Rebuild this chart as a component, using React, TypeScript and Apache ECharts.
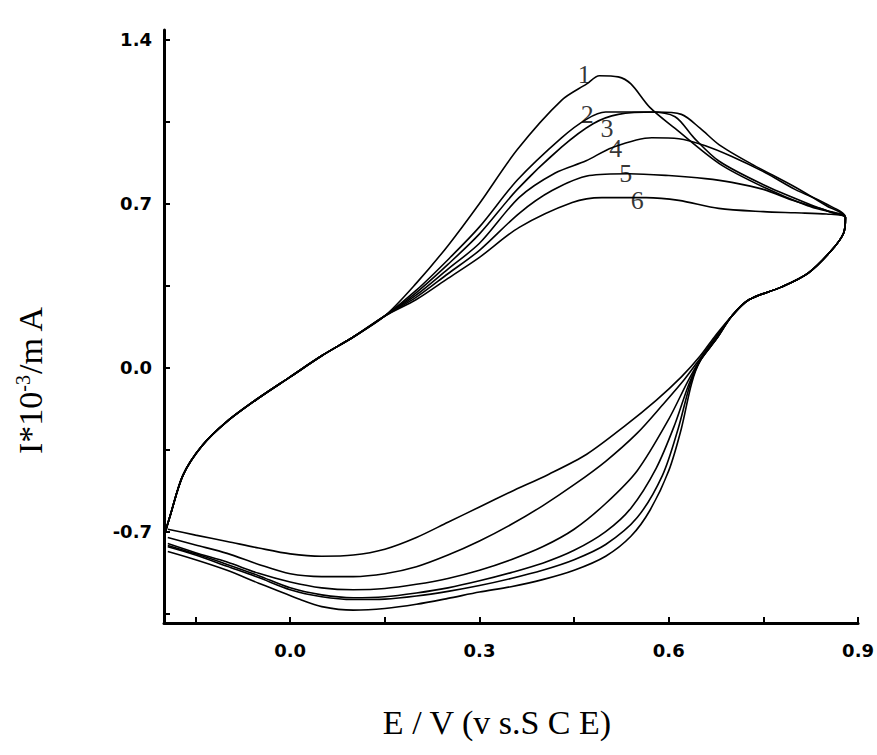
import React, { useEffect, useRef } from "react";
import * as echarts from "echarts";

const xTickValues = [-0.15, 0, 0.15, 0.3, 0.45, 0.6, 0.75, 0.9];
const xLabelValues = [0, 0.3, 0.6, 0.9];
const yTickValues = [-1.05, -0.7, -0.35, 0, 0.35, 0.7, 1.05, 1.4];
const yLabelValues = [-0.7, 0, 0.7, 1.4];

const startBranch: [number, number][] = [
  [-0.2, -0.72], [-0.19, -0.63], [-0.17, -0.46], [-0.14, -0.335], [-0.1, -0.23],
  [-0.05, -0.13], [0, -0.04], [0.05, 0.05], [0.1, 0.13], [0.15, 0.22],
];
const returnBranch: [number, number][] = [
  [0.88, 0.64], [0.877, 0.573], [0.858, 0.5], [0.821, 0.403], [0.779, 0.344], [0.727, 0.289], [0.7, 0.22],
];

const curve1Forward: [number, number][] = [
  [0.2, 0.36], [0.25, 0.52], [0.3, 0.7], [0.36, 0.93], [0.43, 1.14], [0.47, 1.21], [0.49, 1.245],
  [0.52, 1.24], [0.54, 1.21], [0.57, 1.11], [0.61, 1.02], [0.68, 0.87], [0.75, 0.77], [0.82, 0.69], [0.86, 0.66],
];
const curve2Forward: [number, number][] = [
  [0.2, 0.33], [0.25, 0.46], [0.3, 0.6], [0.36, 0.8], [0.43, 0.98], [0.47, 1.06], [0.5, 1.09],
  [0.57, 1.09], [0.61, 1.07], [0.64, 0.98], [0.68, 0.88], [0.75, 0.78], [0.82, 0.7], [0.86, 0.66],
];
const curve3Forward: [number, number][] = [
  [0.2, 0.32], [0.25, 0.44], [0.3, 0.57], [0.36, 0.76], [0.43, 0.94], [0.48, 1.04], [0.52, 1.08],
  [0.58, 1.09], [0.62, 1.08], [0.65, 1.02], [0.68, 0.95], [0.73, 0.87], [0.8, 0.77], [0.85, 0.69],
];
const curve4Forward: [number, number][] = [
  [0.2, 0.31], [0.25, 0.42], [0.3, 0.53], [0.363, 0.726], [0.42, 0.83], [0.469, 0.882], [0.51, 0.938],
  [0.573, 0.98], [0.616, 0.976], [0.658, 0.946], [0.7, 0.9], [0.754, 0.83], [0.8, 0.76], [0.848, 0.7],
];
const curve5Forward: [number, number][] = [
  [0.2, 0.3], [0.25, 0.4], [0.3, 0.5], [0.363, 0.658], [0.415, 0.755], [0.474, 0.819], [0.537, 0.827],
  [0.6, 0.819], [0.658, 0.806], [0.7, 0.79], [0.75, 0.76], [0.8, 0.71], [0.85, 0.67],
];
const curve6Forward: [number, number][] = [
  [0.2, 0.29], [0.25, 0.38], [0.3, 0.47], [0.363, 0.598], [0.447, 0.704], [0.494, 0.725], [0.564, 0.725],
  [0.616, 0.713], [0.679, 0.679], [0.75, 0.665], [0.8, 0.66], [0.85, 0.655],
];

const curve1Reverse: [number, number][] = [
  [0.675, 0.12], [0.65, 0.03], [0.636, -0.07], [0.62, -0.26], [0.6, -0.44], [0.57, -0.61], [0.54, -0.72],
  [0.5, -0.805], [0.45, -0.865], [0.4, -0.905], [0.35, -0.935], [0.3, -0.958], [0.25, -0.985], [0.2, -1.01],
  [0.15, -1.028], [0.1, -1.035], [0.05, -1.02], [0.016, -0.99], [-0.05, -0.92], [-0.1, -0.865], [-0.15, -0.82],
  [-0.194, -0.785],
];
const curve2Reverse: [number, number][] = [
  [0.675, 0.12], [0.65, 0.03], [0.634, -0.07], [0.615, -0.26], [0.59, -0.46], [0.55, -0.64], [0.5, -0.755],
  [0.45, -0.82], [0.4, -0.865], [0.35, -0.9], [0.3, -0.93], [0.25, -0.955], [0.2, -0.975], [0.15, -0.988],
  [0.1, -0.99], [0.05, -0.978], [0, -0.948], [-0.05, -0.896], [-0.1, -0.848], [-0.15, -0.8], [-0.194, -0.765],
];
const curve3Reverse: [number, number][] = [
  [0.675, 0.12], [0.65, 0.03], [0.632, -0.07], [0.61, -0.24], [0.58, -0.43], [0.54, -0.6], [0.5, -0.7],
  [0.45, -0.78], [0.4, -0.835], [0.35, -0.875], [0.3, -0.91], [0.25, -0.94], [0.2, -0.962], [0.15, -0.978],
  [0.1, -0.982], [0.05, -0.97], [0, -0.94], [-0.05, -0.888], [-0.1, -0.84], [-0.15, -0.795], [-0.194, -0.759],
];
const curve4Reverse: [number, number][] = [
  [0.675, 0.13], [0.65, 0.035], [0.63, -0.06], [0.6, -0.22], [0.55, -0.44], [0.5, -0.58], [0.45, -0.69],
  [0.4, -0.765], [0.35, -0.82], [0.3, -0.865], [0.25, -0.9], [0.2, -0.925], [0.15, -0.943], [0.1, -0.948],
  [0.05, -0.94], [0, -0.915], [-0.05, -0.878], [-0.1, -0.83], [-0.15, -0.79], [-0.194, -0.751],
];
const curve5Reverse: [number, number][] = [
  [0.675, 0.13], [0.65, 0.04], [0.625, -0.05], [0.59, -0.16], [0.55, -0.28], [0.5, -0.4], [0.45, -0.5],
  [0.4, -0.59], [0.35, -0.67], [0.3, -0.74], [0.25, -0.8], [0.2, -0.85], [0.15, -0.88], [0.1, -0.892],
  [0.05, -0.892], [0, -0.88], [-0.05, -0.84], [-0.1, -0.793], [-0.15, -0.757], [-0.194, -0.725],
];
const curve6Reverse: [number, number][] = [
  [0.675, 0.14], [0.65, 0.05], [0.62, -0.04], [0.58, -0.14], [0.53, -0.25], [0.47, -0.37], [0.41, -0.455],
  [0.35, -0.53], [0.3, -0.595], [0.25, -0.66], [0.2, -0.725], [0.15, -0.775], [0.1, -0.8], [0.05, -0.805],
  [0, -0.795], [-0.05, -0.77], [-0.1, -0.742], [-0.15, -0.715], [-0.194, -0.69],
];

const curveNames = ["1", "2", "3", "4", "5", "6"];
const curveLabelPositions: [number, number][] = [
  [0.466, 1.25], [0.471, 1.08], [0.502, 1.02], [0.516, 0.933], [0.532, 0.827], [0.55, 0.713],
];

const forwards = [curve1Forward, curve2Forward, curve3Forward, curve4Forward, curve5Forward, curve6Forward];
const reverses = [curve1Reverse, curve2Reverse, curve3Reverse, curve4Reverse, curve5Reverse, curve6Reverse];

export default function App() {
  const ref = useRef<HTMLDivElement>(null);
  useEffect(() => {
    if (!ref.current) return;
    const chart = echarts.init(ref.current, null, { renderer: "svg" });
    const fmt = (v: number) => (Math.abs(v) < 1e-9 ? "0.0" : v.toFixed(1));
    const lineSeries = curveNames.map((name, i) => ({
      type: "line",
      name,
      data: [...startBranch, ...forwards[i], ...returnBranch, ...reverses[i]],
      showSymbol: false,
      smooth: 0.3,
      lineStyle: { color: "#000", width: 1.6 },
      z: 2,
    }));
    chart.setOption({
      animation: false,
      backgroundColor: "#fff",
      grid: { left: 164, right: 18, top: 30, bottom: 132, containLabel: false },
      xAxis: {
        type: "value",
        min: -0.2,
        max: 0.9,
        axisLine: { show: true, onZero: false, lineStyle: { color: "#000", width: 3 } },
        axisTick: { show: true, inside: true, length: 6, customValues: xTickValues, lineStyle: { color: "#000", width: 2 } },
        axisLabel: {
          customValues: xLabelValues,
          formatter: fmt,
          color: "#000",
          fontFamily: "DejaVu Sans",
          fontWeight: "bold",
          fontSize: 18,
          margin: 18,
        },
        splitLine: { show: false },
      },
      yAxis: {
        type: "value",
        min: -1.09,
        max: 1.44,
        axisLine: { show: true, onZero: false, lineStyle: { color: "#000", width: 3 } },
        axisTick: { show: true, inside: true, length: 6, customValues: yTickValues, lineStyle: { color: "#000", width: 2 } },
        axisLabel: {
          customValues: yLabelValues,
          formatter: fmt,
          color: "#000",
          fontFamily: "DejaVu Sans",
          fontWeight: "bold",
          fontSize: 18,
          margin: 12,
        },
        splitLine: { show: false },
      },
      series: [
        ...lineSeries,
        {
          type: "scatter",
          data: curveLabelPositions.map((p, i) => ({ value: p, name: curveNames[i] })),
          symbolSize: 0,
          silent: true,
          label: {
            show: true,
            position: "inside",
            formatter: (p: any) => p.name,
            color: "#000",
            fontFamily: "Liberation Serif",
            fontSize: 26,
          },
          z: 3,
        },
      ],
      graphic: [
        {
          type: "text",
          x: 497,
          y: 722,
          style: {
            text: "E / V (v s.S C E)",
            fontFamily: "Liberation Serif",
            fontSize: 34,
            fill: "#000",
            textAlign: "center",
            textVerticalAlign: "middle",
          },
        },
        {
          type: "text",
          x: 30,
          y: 380,
          rotation: Math.PI / 2,
          style: {
            text: "I*10{sup|-3}/m A",
            fontFamily: "Liberation Serif",
            fontSize: 34,
            fill: "#000",
            textAlign: "center",
            textVerticalAlign: "middle",
            rich: {
              sup: { fontFamily: "Liberation Serif", fontSize: 20, verticalAlign: "top", padding: [0, 0, 14, 0] },
            },
          },
        },
      ],
    });
    return () => chart.dispose();
  }, []);
  return <div ref={ref} style={{ width: 877, height: 755, position: "absolute", left: 0, top: 0 }} />;
}
